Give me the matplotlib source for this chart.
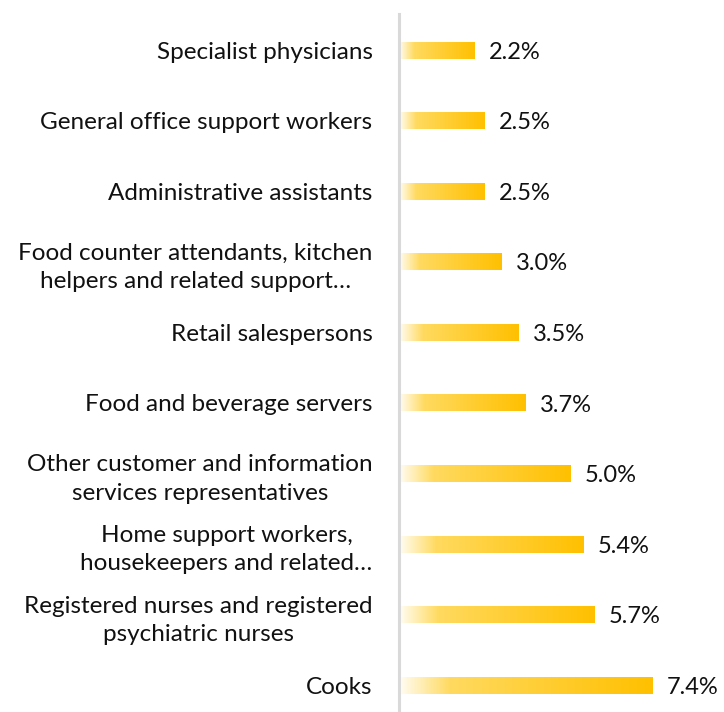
import numpy as np
import matplotlib.pyplot as plt
from matplotlib.colors import LinearSegmentedColormap

categories = [
    "Specialist physicians",
    "General office support workers",
    "Administrative assistants",
    "Food counter attendants, kitchen\nhelpers and related support…",
    "Retail salespersons",
    "Food and beverage servers",
    "Other customer and information\nservices representatives",
    "Home support workers,\nhousekeepers and related…",
    "Registered nurses and registered\npsychiatric nurses",
    "Cooks",
]
values = [2.2, 2.5, 2.5, 3.0, 3.5, 3.7, 5.0, 5.4, 5.7, 7.4]

plt.rcParams['font.family'] = ['Lato', 'DejaVu Sans']

cmap = LinearSegmentedColormap.from_list(
    "gold", [(0.0, "#FFFDF5"), (0.2, "#FFDA60"), (1.0, "#FFC000")])
grad = np.linspace(0, 1, 256).reshape(1, -1)

fig = plt.figure(figsize=(7.24, 7.12), dpi=100)
ax = fig.add_axes([0.551, 0.0, 0.449, 1.0])

bar_h = 0.24
for i, v in enumerate(values):
    ax.imshow(grad, cmap=cmap, aspect='auto', interpolation='bilinear',
              extent=[0, v, i + bar_h / 2, i - bar_h / 2], zorder=2)
    ax.text(v + 0.42, i + 0.03, f"{v:.1f}%", va='center', ha='left',
            fontsize=17, color='#111111')

ax.set_xlim(0, 9.5)
ax.set_ylim(9.38, -0.709)
ax.set_yticks(range(len(categories)))
ax.set_yticklabels(categories, fontsize=17.5, multialignment='center',
                   linespacing=1.42, color='#111111')
ax.tick_params(axis='y', length=0, pad=19)
ax.set_xticks([])
for s in ['top', 'right', 'bottom']:
    ax.spines[s].set_visible(False)
ax.spines['left'].set_color('#D9D9D9')
ax.spines['left'].set_linewidth(2.2)
ax.spines['left'].set_bounds(-0.51, 9.38)

fig.savefig("out.png", dpi=100)
